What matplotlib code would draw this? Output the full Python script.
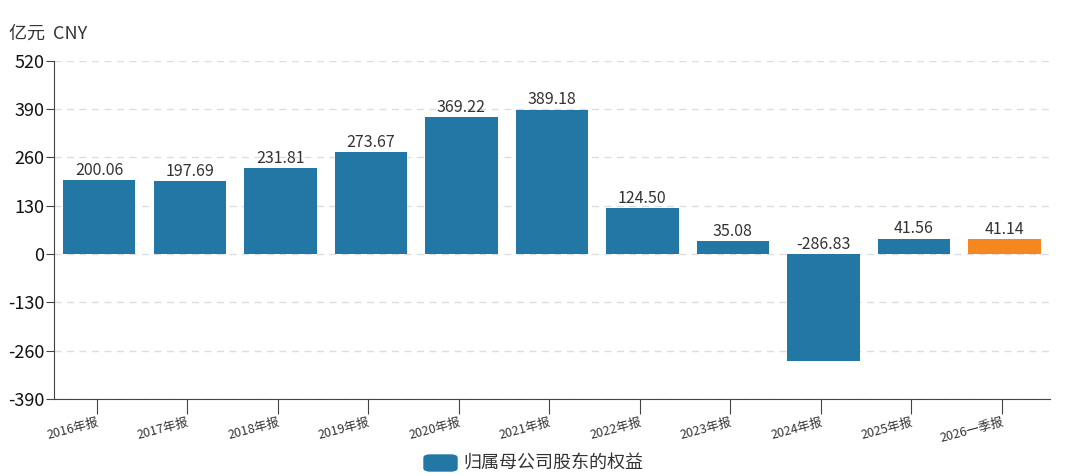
import matplotlib.pyplot as plt
from matplotlib.patches import FancyBboxPatch

plt.rcParams['font.family'] = ['Noto Sans CJK SC', 'DejaVu Sans']

# 数据
periods = ['2016年报', '2017年报', '2018年报', '2019年报', '2020年报', '2021年报',
           '2022年报', '2023年报', '2024年报', '2025年报', '2026一季报']
equity = [200.06, 197.69, 231.81, 273.67, 369.22, 389.18, 124.50, 35.08, -286.83, 41.56, 41.14]
y_ticks = [-390, -260, -130, 0, 130, 260, 390, 520]

blue = '#2277a4'
orange = '#f5871f'
colors = [blue] * (len(equity) - 1) + [orange]

fig = plt.figure(figsize=(10.8, 4.76), dpi=100)
ax = fig.add_axes([0.05, 0.162, 0.922, 0.71])

x = range(len(periods))
ax.bar(x, equity, width=0.8, color=colors, zorder=3)

for i, v in enumerate(equity):
    ax.text(i, max(v, 0) + 3, f'{v:.2f}', ha='center', va='bottom',
            fontsize=11.5, color='#333333', zorder=4)

ax.set_ylim(-390, 520)
ax.set_xlim(-0.5, len(periods) - 0.5)
ax.tick_params(axis='x', length=11, color='#444444', pad=1)
ax.tick_params(axis='y', length=6, color='#444444', pad=1)
ax.set_yticks(y_ticks)
ax.set_yticklabels([str(t) for t in y_ticks], fontsize=13, color='#111111')
ax.set_xticks([i - 0.03 for i in x])
ax.set_xticklabels(periods, rotation=15, ha='right', rotation_mode='anchor',
                   fontsize=9, color='#333333')

ax.grid(axis='y', linestyle=(0, (5, 4)), color='#dddddd', linewidth=1, zorder=0)
for s in ['top', 'right']:
    ax.spines[s].set_visible(False)
for s in ['left', 'bottom']:
    ax.spines[s].set_color('#444444')

fig.text(0.008, 0.93, '亿元  CNY', fontsize=13, color='#333333', va='center')

# 图例
fig.patches.append(FancyBboxPatch((424 / 1080, 1 - 471 / 476), 33 / 1080, 16 / 476,
                                  boxstyle='round,pad=0,rounding_size=0.006',
                                  transform=fig.transFigure, color=blue))
fig.text(463 / 1080, 1 - 463 / 476, '归属母公司股东的权益', fontsize=13,
         color='#333333', va='center')

fig.savefig('out.png', dpi=100)
